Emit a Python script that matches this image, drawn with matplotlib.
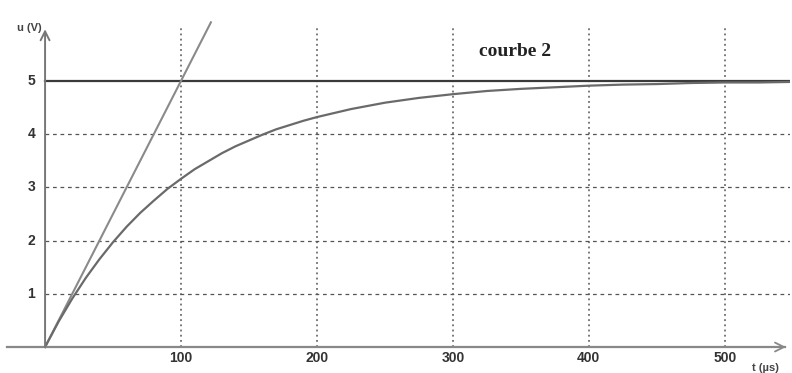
import numpy as np
import matplotlib
matplotlib.use('Agg')
from matplotlib import pyplot as plt

# values
t_curve = [0, 10, 20, 30, 40, 50, 60, 70, 80, 90, 100, 110, 120, 130, 140,
           150, 160, 170, 180, 190, 200, 225, 250, 275, 300, 325, 350, 375,
           400, 425, 450, 475, 500, 525, 548]
u_curve = [0, 0.48, 0.91, 1.30, 1.65, 1.97, 2.26, 2.52, 2.75, 2.97, 3.16,
           3.34, 3.49, 3.64, 3.77, 3.88, 3.99, 4.09, 4.17, 4.25, 4.32, 4.47,
           4.59, 4.68, 4.75, 4.81, 4.85, 4.88, 4.91, 4.93, 4.94, 4.96, 4.97,
           4.97, 4.98]
t_tangent = [0, 122]
u_tangent = [0, 6.1]
u_final = 5
x_ticks = [100, 200, 300, 400, 500]
y_ticks = [1, 2, 3, 4, 5]

fig = plt.figure(figsize=(7.92, 3.73), dpi=100)
ax = fig.add_axes([7/792, 10/373, 783/792, 346/373])
ax.set_xlim(-28, 548)
ax.set_ylim(-0.3, 6.2)
ax.axis('off')

grid_c = '#555555'
for x in x_ticks:
    ax.plot([x, x], [0, 6.04], ls=(0, (1.2, 2.2)), c=grid_c, lw=1.1)
for y in y_ticks[:-1]:
    ax.plot([0, 548], [y, y], ls=(0, (3, 3)), c=grid_c, lw=0.9)

ax.plot([0, 548], [u_final, u_final], c='#3a3a3a', lw=1.6)
ax.plot(t_tangent, u_tangent, c='#8a8a8a', lw=1.5)
ax.plot(t_curve, u_curve, c='#6a6a6a', lw=1.6)

# axes with open arrow heads
ax.plot([-28, 544], [0, 0], c='#888888', lw=1.6, clip_on=False)
ax.annotate('', xy=(545, 0), xytext=(515, 0), annotation_clip=False,
            arrowprops=dict(arrowstyle='->', color='#888888', lw=1.3,
                            shrinkA=0, shrinkB=0, mutation_scale=16))
ax.annotate('', xy=(0, 5.97), xytext=(0, 0), annotation_clip=False,
            arrowprops=dict(arrowstyle='->', color='#777777', lw=1.4,
                            shrinkA=0, shrinkB=0, mutation_scale=16))

lab = dict(family='Liberation Sans', fontweight='bold', fontsize=10, color='#333333')
for x in x_ticks:
    ax.text(x, -0.2, str(x), ha='center', va='center', **lab)
for y in y_ticks:
    ax.text(-10, y, str(y), ha='center', va='center', **lab)

ax.text(-21, 6.0, 'u (V)', ha='left', va='center', family='Liberation Sans',
        fontweight='bold', fontsize=8, color='#444444')
fig.text(752/792, 1 - 368/373, 't (µs)', ha='left', va='center',
         family='Liberation Sans', fontweight='bold', fontsize=8, color='#444444')
ax.text(346, 5.55, 'courbe 2', ha='center', va='center', family='Liberation Serif',
        fontweight='bold', fontsize=14, color='#222222')

fig.savefig('out.png', dpi=100)
